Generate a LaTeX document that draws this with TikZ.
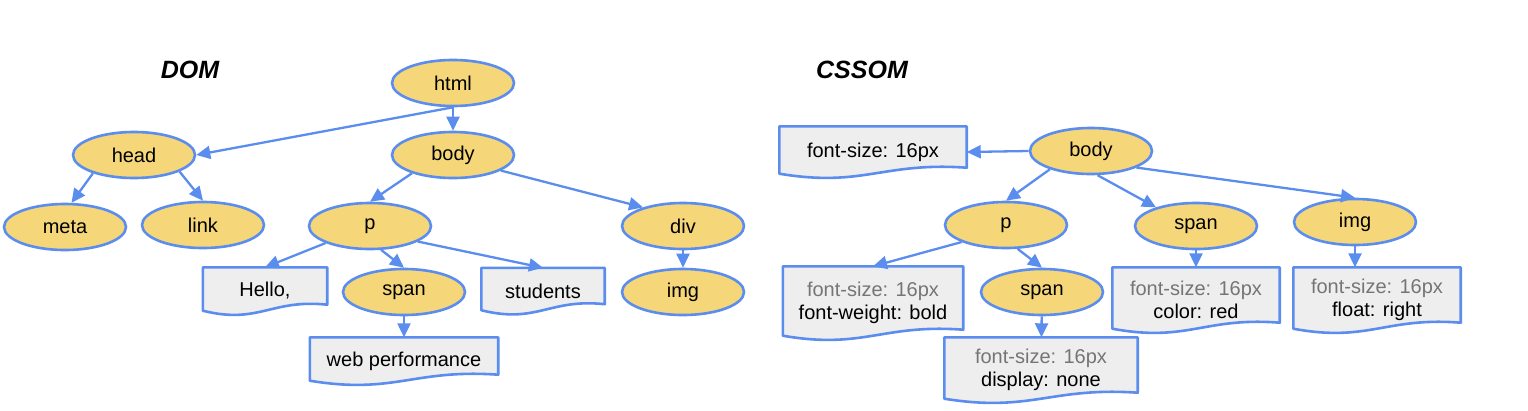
\documentclass[tikz,border=0pt]{standalone}
\usepackage{fontspec}
\setmainfont{Liberation Sans}
\usetikzlibrary{shapes.geometric, arrows.meta, calc, backgrounds}

\definecolor{tagblue}{HTML}{5B8DEF}
\definecolor{tagyellow}{HTML}{F5D77A}
\definecolor{docgray}{HTML}{EEEEEE}
\definecolor{propgray}{HTML}{757575}

% wavy document outline around a node
\newcommand{\docshape}[1]{%
  \draw[docline] let \p1=(#1.south west), \p2=(#1.north east), \n1={\x2-\x1} in
    (\x1,\y2) -- (\x2,\y2) -- (\x2,\y1+10pt)
    .. controls (\x1+0.55*\n1,\y1+16pt) and (\x1+0.45*\n1,\y1-10pt) .. (\x1,\y1+4pt) -- cycle;}

\begin{document}
\begin{tikzpicture}[x=1pt, y=-1pt,
  tag/.style={ellipse, draw=tagblue, line width=2.6pt, fill=tagyellow,
    minimum width=122pt, minimum height=46pt, inner sep=0pt,
    font=\fontsize{20}{23}\selectfont},
  doc/.style={rectangle, inner sep=0pt, align=center,
    font=\fontsize{20}{23}\selectfont},
  docline/.style={draw=tagblue, line width=2.6pt, fill=docgray, line join=round},
  link/.style={draw=tagblue, line width=2.3pt,
    -{Triangle[length=14pt,width=13pt]}},
  title/.style={font=\fontsize{25}{28}\selectfont\bfseries\itshape}]
\useasboundingbox (0,0) rectangle (1528,410);

% Titles
\node[title] (domtitle) at (190,70) {DOM};
\node[title] (cssomtitle) at (862,70) {CSSOM};

% DOM tree
\node[tag] (html) at (453,83) {html};
\node[tag] (head) at (134,155) {head};
\node[tag] (body) at (453,155) {body};
\node[tag] (meta) at (65,227) {meta};
\node[tag] (link) at (203,225) {link};
\node[tag] (p) at (370,226) {p};
\node[tag] (div) at (683,226) {div};
\node[tag] (span) at (404,292) {span};
\node[tag] (img) at (683,292) {img};
\node[doc, minimum width=124pt, minimum height=47pt] (hello) at (265,291) {Hello,};
\node[doc, minimum width=123pt, minimum height=46pt] (students) at (543,291) {students};
\node[doc, minimum width=188pt, minimum height=47pt] (web) at (404,361) {web performance};

% CSSOM tree
\node[tag] (cbody) at (1091,151) {body};
\node[tag] (cp) at (1006,225) {p};
\node[tag] (cspan) at (1196,226) {span};
\node[tag] (cimg) at (1355,222) {img};
\node[tag] (cspanb) at (1042,292) {span};
\node[doc, minimum width=187pt, minimum height=51pt] (fs) at (873,152) {font-size: 16px};
\node[doc, minimum width=180pt, minimum height=73pt] (fw) at (873,303)
  {{\color{propgray}font-size: 16px}\\font-weight: bold};
\node[doc, minimum width=193pt, minimum height=65pt] (display) at (1041,370)
  {{\color{propgray}font-size: 16px}\\display: none};
\node[doc, minimum width=167pt, minimum height=65pt] (color) at (1196,300)
  {{\color{propgray}font-size: 16px}\\color: red};
\node[doc, minimum width=167pt, minimum height=65pt] (float) at (1377,300)
  {{\color{propgray}font-size: 16px}\\float: right};

% Document boxes
\begin{scope}[on background layer]
\foreach \d in {hello, students, web, fs, fw, display, color, float}
  \docshape{\d};
\end{scope}

% DOM edges
\draw[link] (html.south) -- (head.east);
\draw[link] (html) -- (body);
\draw[link] (head.204) -- (meta.75);
\draw[link] (head.340) -- (link.north);
\draw[link] (body.204) -- (p.north);
\draw[link] (body.342) -- (div.155);
\draw[link] (p.201) -- (hello.north);
\draw[link] (p.295) -- (span.north);
\draw[link] (p.342) -- (students.north);
\draw[link] (span) -- (web);
\draw[link] (div) -- (img);

% CSSOM edges
\draw[link] (cbody.west) -- (fs.east);
\draw[link] (cbody.204) -- (cp.north);
\draw[link] (cbody.285) -- (cspan.155);
\draw[link] (cbody.340) -- (cimg.north);
\draw[link] (cp.201) -- (fw.north);
\draw[link] (cp.296) -- (cspanb.north);
\draw[link] (cspanb) -- (display);
\draw[link] (cspan) -- (color);
\draw[link] (cimg.south) -- (cimg.south |- float.north);
\end{tikzpicture}
\end{document}
